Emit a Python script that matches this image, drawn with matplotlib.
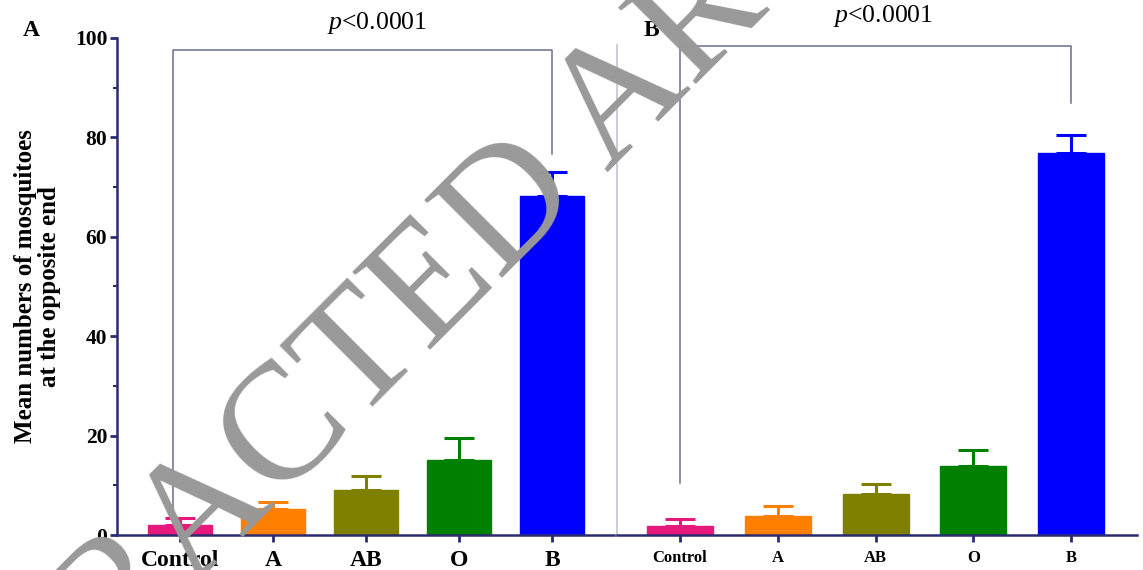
import matplotlib.pyplot as plt
import numpy as np

plt.rcParams['font.family'] = ['Liberation Serif', 'DejaVu Serif']
plt.rcParams['mathtext.fontset'] = 'custom'
plt.rcParams['mathtext.it'] = 'Liberation Serif:italic'
plt.rcParams['mathtext.rm'] = 'Liberation Serif'

# --- data ---
groups = ['Control', 'A', 'AB', 'O', 'B']
mean_a = [2.0, 5.3, 9.0, 15.1, 68.2]
err_a = [1.5, 1.4, 2.9, 4.5, 4.9]
mean_b = [1.8, 3.8, 8.2, 13.9, 76.8]
err_b = [1.4, 2.0, 2.0, 3.2, 3.7]
colors = ['#e8197d', '#ff8000', '#808000', '#008000', '#0000ff']
y_ticks = [0, 20, 40, 60, 80, 100]
p_label = r'$p$<0.0001'

navy = '#2b2b72'
bracket_col = '#6c6c8c'

fig = plt.figure(figsize=(11.43, 5.70), dpi=100)
ax1 = fig.add_axes([0.1024, 0.0614, 0.4348, 0.872])
ax2 = fig.add_axes([0.5398, 0.0614, 0.4550, 0.872])

x = np.arange(len(groups))


def draw_panel(ax, means, errs, width, xlim, tick_fs):
    ax.bar(x, means, width=width, color=colors, edgecolor=colors, zorder=2)
    for xi, m, e, c in zip(x, means, errs, colors):
        ax.errorbar(xi, m, yerr=[[0], [e]], fmt='none', ecolor=c,
                    elinewidth=2.2, capsize=11, capthick=2.2, zorder=1)
    ax.set_xlim(*xlim)
    ax.set_ylim(0, 100)
    ax.set_xticks(x)
    ax.set_xticklabels(groups, fontsize=tick_fs, fontweight='bold')
    ax.tick_params(axis='x', length=5, width=2, color=navy, pad=6)
    for s in ['top', 'right']:
        ax.spines[s].set_visible(False)
    ax.spines['bottom'].set_color(navy)
    ax.spines['bottom'].set_linewidth(1.8)
    ax.set_facecolor('none')


draw_panel(ax1, mean_a, err_a, 0.68, (-0.677, 4.667), 17)
draw_panel(ax2, mean_b, err_b, 0.675, (-0.645, 4.675), 12)

# panel A y axis
ax1.spines['left'].set_color(navy)
ax1.spines['left'].set_linewidth(1.8)
ax1.set_yticks(y_ticks)
ax1.set_yticklabels([str(t) for t in y_ticks], fontsize=15.5, fontweight='bold')
ax1.set_yticks(np.arange(10, 100, 20), minor=True)
ax1.tick_params(axis='y', which='major', length=5, width=2, color=navy, pad=2)
ax1.tick_params(axis='y', which='minor', length=3, width=1.5, color=navy)
ax1.set_ylabel('Mean numbers of mosquitoes\nat the opposite end',
               fontsize=18, fontweight='bold', labelpad=10, linespacing=1.05)

# panel B y axis: light line only
ax2.spines['left'].set_color('#c4c4d4')
ax2.spines['left'].set_linewidth(1.2)
ax2.spines['left'].set_bounds(0, 98.6)
ax2.set_yticks([])

# significance brackets
ax1.plot([-0.075, -0.075, 4, 4], [2.5, 97.6, 97.6, 76.7],
         color=bracket_col, lw=1.1, zorder=3, clip_on=False)
ax1.text(2.12, 103, p_label, fontsize=18.5, ha='center', va='center')

ax2.plot([0, 0, 4, 4], [10.5, 98.4, 98.4, 87],
         color=bracket_col, lw=1.1, zorder=3, clip_on=False)
ax2.text(2.08, 104.4, p_label, fontsize=18.5, ha='center', va='center')

# panel letters
fig.text(0.027, 0.947, 'A', fontsize=17, fontweight='bold', ha='center', va='center')
fig.text(0.570, 0.947, 'B', fontsize=17, fontweight='bold', ha='center', va='center')

# watermark (starts off-canvas at lower left)
fig.text(-0.0954, -0.560, 'RETRACTED ARTICLE', fontsize=120,
         color='#999999', rotation=45, rotation_mode='anchor',
         ha='left', va='baseline', zorder=10)

plt.savefig('out.png', dpi=100)
